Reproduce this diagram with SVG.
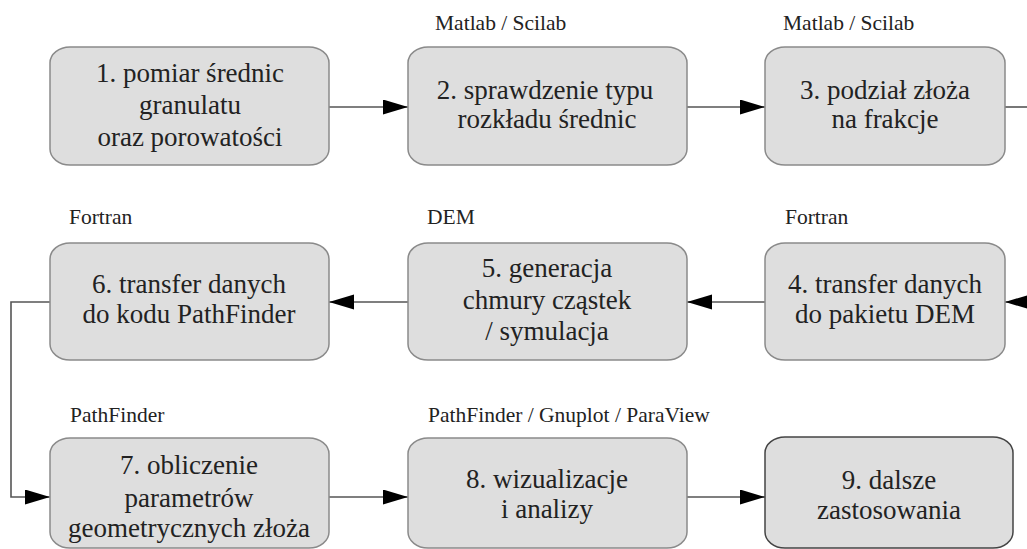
<svg xmlns="http://www.w3.org/2000/svg" width="1027" height="549" viewBox="0 0 1027 549">
<style>
.box{fill:#dedede;stroke:#8a8a8a;stroke-width:1.5}
.box9{fill:#dedede;stroke:#444;stroke-width:1.5}
.nt{font-size:27px;fill:#222;text-anchor:middle}
.lbl{font-size:21.5px;fill:#222}
.c{fill:none;stroke:#555;stroke-width:1.6}
</style>
<defs>
<marker id="ah" markerUnits="userSpaceOnUse" markerWidth="26" markerHeight="16" refX="25" refY="7.5" orient="auto">
<path d="M0,0 L25,7.5 L0,15 z" fill="#000"/>
</marker>
</defs>
<g font-family="Liberation Serif, serif">
<g id="labels">
<text class="lbl" x="435" y="30">Matlab / Scilab</text>
<text class="lbl" x="783" y="30">Matlab / Scilab</text>
<text class="lbl" x="69" y="224">Fortran</text>
<text class="lbl" x="427" y="224">DEM</text>
<text class="lbl" x="785" y="224">Fortran</text>
<text class="lbl" x="70" y="422">PathFinder</text>
<text class="lbl" x="428" y="422">PathFinder / Gnuplot / ParaView</text>
</g>
<g id="connectors">
<path class="c" d="M329,107 H408" marker-end="url(#ah)"/>
<path class="c" d="M687,107 H765" marker-end="url(#ah)"/>
<path class="c" d="M1005,107 H1027"/>
<path class="c" d="M1027,302 H1005" marker-end="url(#ah)"/>
<path class="c" d="M765,302 H687" marker-end="url(#ah)"/>
<path class="c" d="M408,302 H329" marker-end="url(#ah)"/>
<path class="c" d="M50,302 H11 V497 H50" marker-end="url(#ah)"/>
<path class="c" d="M329,497 H408" marker-end="url(#ah)"/>
<path class="c" d="M687,497 H765" marker-end="url(#ah)"/>
</g>
<g id="n1">
<rect class="box" x="50" y="47" width="279" height="118" rx="20" ry="16"/>
<text class="nt" x="190" y="82">1. pomiar średnic</text>
<text class="nt" x="190" y="114">granulatu</text>
<text class="nt" x="190" y="146">oraz porowatości</text>
</g>
<g id="n2">
<rect class="box" x="408" y="47" width="279" height="118" rx="20" ry="16"/>
<text class="nt" x="545" y="99">2. sprawdzenie typu</text>
<text class="nt" x="547" y="128">rozkładu średnic</text>
</g>
<g id="n3">
<rect class="box" x="765" y="47" width="240" height="118" rx="20" ry="16"/>
<text class="nt" x="885" y="99">3. podział złoża</text>
<text class="nt" x="885" y="128">na frakcje</text>
</g>
<g id="n4">
<rect class="box" x="765" y="243" width="240" height="117" rx="20" ry="16"/>
<text class="nt" x="885" y="293">4. transfer danych</text>
<text class="nt" x="885" y="323">do pakietu DEM</text>
</g>
<g id="n5">
<rect class="box" x="408" y="243" width="279" height="117" rx="20" ry="16"/>
<text class="nt" x="547" y="277">5. generacja</text>
<text class="nt" x="547" y="309">chmury cząstek</text>
<text class="nt" x="547" y="340">/ symulacja</text>
</g>
<g id="n6">
<rect class="box" x="50" y="243" width="279" height="117" rx="20" ry="16"/>
<text class="nt" x="189" y="293">6. transfer danych</text>
<text class="nt" x="189" y="323">do kodu PathFinder</text>
</g>
<g id="n7">
<rect class="box" x="50" y="438" width="279" height="110" rx="20" ry="16"/>
<text class="nt" x="189" y="474">7. obliczenie</text>
<text class="nt" x="189" y="507">parametrów</text>
<text class="nt" x="189" y="537">geometrycznych złoża</text>
</g>
<g id="n8">
<rect class="box" x="408" y="438" width="279" height="110" rx="20" ry="16"/>
<text class="nt" x="547" y="488">8. wizualizacje</text>
<text class="nt" x="547" y="518">i analizy</text>
</g>
<g id="n9">
<rect class="box9" x="765" y="437" width="248" height="111" rx="20" ry="16"/>
<text class="nt" x="889" y="489">9. dalsze</text>
<text class="nt" x="889" y="519">zastosowania</text>
</g>
</g>
</svg>
